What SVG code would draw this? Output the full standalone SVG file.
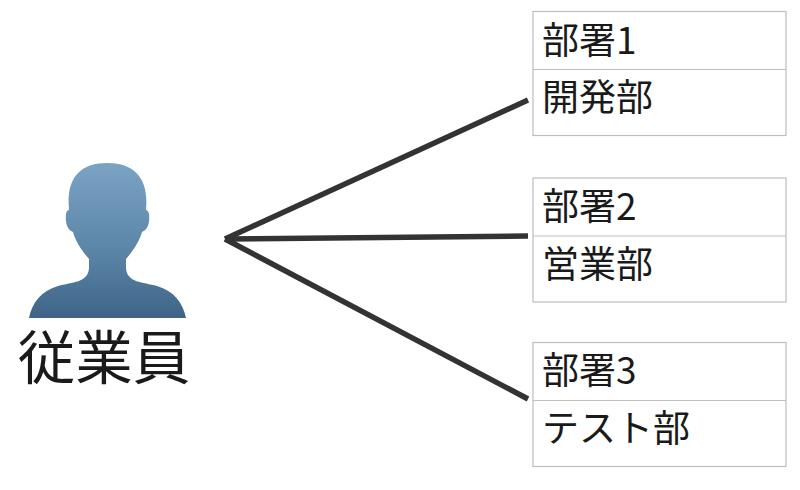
<svg xmlns="http://www.w3.org/2000/svg" width="800" height="490" viewBox="0 0 800 490">
<style>
.t{font-family:"Noto Sans CJK JP","Liberation Sans",sans-serif;font-size:37px;fill:#1a1a1a}
.b{fill:#fff;stroke:#bdbdbd;stroke-width:1.2}
.c{fill:none;stroke:#333;stroke-width:5.500}
</style>
<defs><linearGradient id="g" x1="0" y1="0" x2="0" y2="1"><stop offset="0" stop-color="#7ba3c4"/><stop offset="0.55" stop-color="#5c86a8"/><stop offset="1" stop-color="#3f6488"/></linearGradient></defs>
<rect width="800" height="490" fill="#fff"/>
<g id="connectors">
<line class="c" x1="225" y1="239" x2="528" y2="100"/>
<line class="c" x1="225" y1="239" x2="528" y2="236"/>
<line class="c" x1="225" y1="239" x2="528" y2="399"/>
</g>
<g id="employee">
<path fill="url(#g)" d="M29 318C32 303 41 291 58 286C72 282 88 283 89 268L89 259C83 252 76 243 73 232C67 230 65 222 66 214C67 209 69 211 69 209C66 178 80 163 107 163C134 163 149 178 146 209C146 211 148 209 149 214C150 222 148 230 142 232C139 243 132 252 126 259L126 268C127 283 143 282 157 286C174 291 183 303 186 318Z"/>
<text x="104" y="379" text-anchor="middle" style="font-family:'Noto Sans CJK JP','Liberation Sans',sans-serif;font-size:57.500px;fill:#1a1a1a">従業員</text>
</g>
<g id="dept1">
<rect class="b" x="533" y="11.500" width="253" height="124"/><line class="b" x1="533" y1="69.500" x2="786" y2="69.500"/>
<text class="t" x="542" y="54">部署1</text><text class="t" x="542" y="111">開発部</text>
</g>
<g id="dept2">
<rect class="b" x="533" y="178" width="253" height="124"/><line class="b" x1="533" y1="236" x2="786" y2="236"/>
<text class="t" x="542" y="220">部署2</text><text class="t" x="542" y="278">営業部</text>
</g>
<g id="dept3">
<rect class="b" x="533" y="342.500" width="253" height="124"/><line class="b" x1="533" y1="400.500" x2="786" y2="400.500"/>
<text class="t" x="542" y="384">部署3</text><text class="t" x="542" y="442">テスト部</text>
</g>
</svg>
